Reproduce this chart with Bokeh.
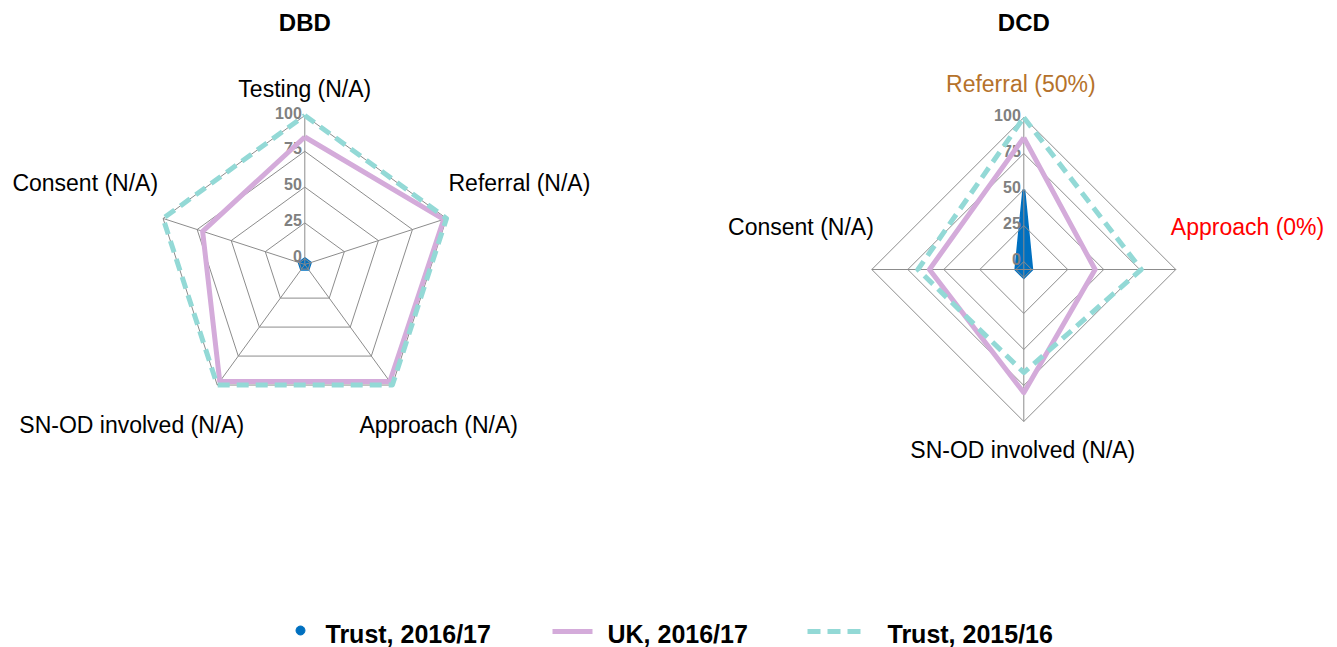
import numpy as np
from bokeh.plotting import figure
from bokeh.models import Range1d
from bokeh.core.properties import value
from bokeh.embed import file_html
from bokeh.resources import INLINE

# ---------------- data ----------------
ticks = [0, 25, 50, 75, 100]

dbd_title = "DBD"
dbd_cats = ["Testing (N/A)", "Referral (N/A)", "Approach (N/A)", "SN-OD involved (N/A)", "Consent (N/A)"]
dbd_trust_1617 = [0, 0, 0, 0, 0]
dbd_uk_1617 = [85, 98, 97, 97, 71]
dbd_trust_1516 = [100, 100, 100, 100, 100]

dcd_title = "DCD"
dcd_cats = ["Referral (50%)", "Approach (0%)", "SN-OD involved (N/A)", "Consent (N/A)"]
dcd_trust_1617 = [50, 0, 0, 0]
dcd_uk_1617 = [86, 44, 80, 60]
dcd_trust_1516 = [100, 76, 66, 68]

series_names = ["Trust, 2016/17", "UK, 2016/17", "Trust, 2015/16"]

# ---------------- styles ----------------
BLUE = "#0070C0"
PURPLE = "#D4ABDA"
TEAL = "#93D9D6"
GRID = "#8C8C8C"
TICKC = "#808080"
FONT = "Liberation Sans"

W, H = 1337, 647
p = figure(width=W, height=H, output_backend="svg", toolbar_location=None,
           x_range=Range1d(0, W), y_range=Range1d(H, 0),
           min_border=0, min_border_left=0, min_border_right=0,
           min_border_top=0, min_border_bottom=0)
p.axis.visible = False
p.grid.visible = False
p.outline_line_color = None
p.background_fill_color = "white"
p.border_fill_color = "white"


def radar(cx, cy, R, vmin, title, cats, s1, s2, s3, label_layout, label_colors):
    n = len(cats)
    ang = np.pi / 2 - 2 * np.pi * np.arange(n) / n

    def rad(v):
        return (np.asarray(v, dtype=float) - vmin) / (100 - vmin) * R

    def pts(vals):
        r = rad(vals)
        xs = cx + r * np.cos(ang)
        ys = cy - r * np.sin(ang)
        return list(xs) + [xs[0]], list(ys) + [ys[0]]

    # Trust 2016/17 (filled, beneath grid)
    bx, by = pts(s1)
    p.patch(bx, by, fill_color=BLUE, line_color=BLUE, line_width=3, line_join="miter")

    # grid rings
    for t in ticks:
        gx, gy = pts([t] * n)
        p.line(gx, gy, line_color=GRID, line_width=1)
    # spokes
    ox, oy = pts([100] * n)
    zx, zy = pts([vmin] * n)
    p.segment(x0=zx[:-1], y0=zy[:-1], x1=ox[:-1], y1=oy[:-1], line_color=GRID, line_width=1)

    # tick labels
    tr = rad(ticks)
    p.text(x=[cx - 3] * len(ticks), y=list(cy - tr - 3), text=[str(t) for t in ticks],
           text_font=value(FONT), text_font_size="16px", text_font_style="bold",
           text_color=TICKC, text_align="right", text_baseline="middle")

    # UK 2016/17
    ux, uy = pts(s2)
    p.line(ux, uy, line_color=PURPLE, line_width=5, line_join="round")
    # Trust 2015/16
    tx, ty = pts(s3)
    p.line(tx, ty, line_color=TEAL, line_width=5, line_dash="12 7", line_join="round")

    # category labels
    for i, c in enumerate(cats):
        dx, dy, al = label_layout[i]
        p.text(x=[ox[i] + dx], y=[oy[i] + dy], text=[c], text_font=value(FONT),
               text_font_size="23px", text_color=label_colors[i],
               text_align=al, text_baseline="middle")

    # title
    p.text(x=[cx], y=[22], text=[title], text_font=value(FONT), text_font_size="24px",
           text_font_style="bold", text_color="black", text_align="center",
           text_baseline="middle")


radar(304.3, 264, 149, -4, dbd_title, dbd_cats, dbd_trust_1617, dbd_uk_1617, dbd_trust_1516,
      [(0, -27, "center"), (2, -35, "left"), (-33, 40, "left"), (27, 40, "right"), (-5, -35, "right")],
      ["black"] * 5)
radar(1023.3, 269, 152, -5.5, dcd_title, dcd_cats, dcd_trust_1617, dcd_uk_1617, dcd_trust_1516,
      [(-3, -34, "center"), (-5, -43, "left"), (-1, 28, "center"), (2, -43, "right")],
      ["#B5722B", "#FF0000", "black", "black"])

# ---------------- legend ----------------
ly = 631
p.scatter([300], [ly - 1], size=9, marker="circle", color=BLUE)
p.line([552, 592], [ly, ly], line_color=PURPLE, line_width=5)
p.line([807, 862], [ly, ly], line_color=TEAL, line_width=5, line_dash="13 7")
p.text(x=[325, 607, 887], y=[633, 633, 633], text=series_names, text_font=value(FONT),
       text_font_size="25px", text_font_style="bold", text_color="black",
       text_align="left", text_baseline="middle")

open("out.html", "w").write(file_html(p, INLINE))
